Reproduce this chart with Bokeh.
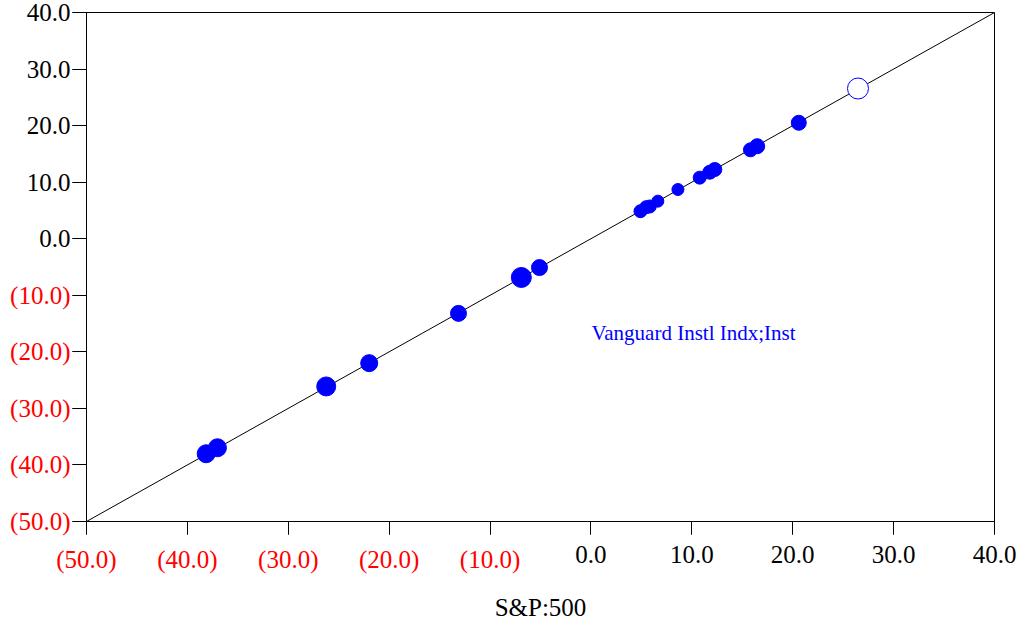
from bokeh.plotting import figure
from bokeh.models import Label, FixedTicker, CustomJSTickFormatter, Range1d
from bokeh.layouts import column
from bokeh.embed import file_html
from bokeh.resources import INLINE

# ---- data ----
sp500 = [-38.14, -37.02, -26.24, -21.98, -13.13, -6.90, -5.10, 4.91, 5.48, 5.83, 6.63,
         8.62, 10.78, 11.78, 12.28, 15.81, 16.48, 20.60]
fund = [-38.02, -36.96, -26.12, -22.00, -13.20, -6.85, -5.10, 4.87, 5.58, 5.70, 6.64,
        8.70, 10.80, 11.76, 12.24, 15.72, 16.36, 20.50]
weight = [18, 18, 19, 17, 16, 20, 16, 13, 13, 13, 12, 12, 13, 14, 14, 14, 15, 15]
current_x = [26.47]
current_y = [26.56]
fund_name = "Vanguard Instl Indx;Inst"
x_title = "S&P:500"
ticks = [-50, -40, -30, -20, -10, 0, 10, 20, 30, 40]
lo, hi = -50, 40

FONT = "Liberation Serif"
FS = "25px"
W, H = 1024, 624
BORDERS = dict(min_border_left=86, min_border_right=30, min_border_top=12, min_border_bottom=103)

xr = Range1d(lo, hi)
yr = Range1d(lo, hi)


def make_fig(positive, color):
    f = figure(width=W, height=H, output_backend="svg", toolbar_location=None,
               x_range=xr, y_range=yr, **BORDERS)
    f.grid.visible = False
    if positive:
        code = "return tick < 0 ? '' : tick.toFixed(1);"
    else:
        code = "return tick < 0 ? '(' + Math.abs(tick).toFixed(1) + ')' : '';"
    fmt = CustomJSTickFormatter(code=code)
    for ax in (f.xaxis[0], f.yaxis[0]):
        ax.ticker = FixedTicker(ticks=ticks)
        ax.formatter = fmt
        ax.minor_tick_line_color = None
        ax.major_tick_in = 0
        ax.major_tick_line_color = "black"
        ax.axis_line_color = "black"
        ax.major_label_text_font = FONT
        ax.major_label_text_font_size = FS
        ax.major_label_text_color = color
    f.yaxis[0].major_tick_out = 14
    f.yaxis[0].major_label_standoff = 2
    f.xaxis[0].major_tick_out = 13
    f.xaxis[0].major_label_standoff = 11
    return f


# main figure: marks + black (non-negative) tick labels
p = make_fig(True, "black")
p.outline_line_color = "black"
p.outline_line_width = 1
p.background_fill_color = "white"
p.border_fill_color = "white"
p.xaxis[0].axis_label = x_title
p.xaxis[0].axis_label_text_font = FONT
p.xaxis[0].axis_label_text_font_size = FS
p.xaxis[0].axis_label_text_font_style = "normal"
p.xaxis[0].axis_label_text_color = "black"
p.xaxis[0].axis_label_standoff = 28

# diagonal reference line
p.line([lo, hi], [lo, hi], line_color="black", line_width=1)

p.scatter(sp500, fund, size=weight, fill_color="blue", line_color="blue")
p.scatter(current_x, current_y, size=21, fill_color="white", line_color="blue", line_width=1)

p.add_layout(Label(x=0.05, y=-16.6, text=fund_name, text_align="left",
                   text_baseline="middle", text_color="blue",
                   text_font=FONT, text_font_size="21px"))

# overlay figure: red, parenthesised negative tick labels
p2 = make_fig(False, "red")
p2.outline_line_color = None
p2.background_fill_color = None
p2.border_fill_color = None
p2.line([lo, hi], [lo, hi], line_alpha=0)
p2.styles = {"position": "absolute", "top": "0px", "left": "0px"}

layout = column(p, p2, styles={"position": "relative"})

open("out.html", "w").write(file_html(layout, INLINE))
